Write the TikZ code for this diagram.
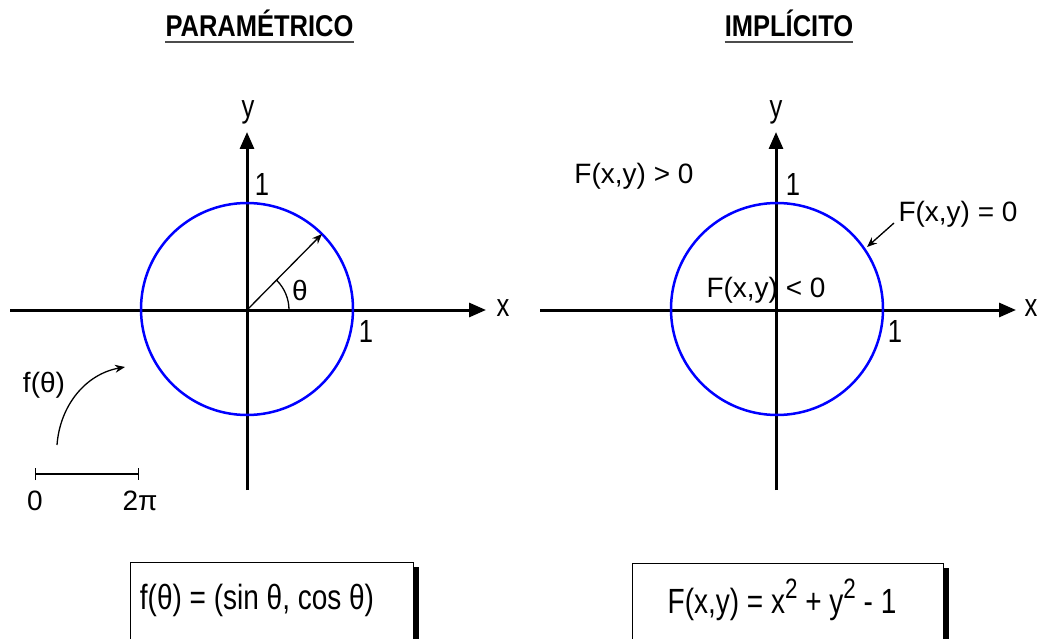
\documentclass[tikz,border=0pt]{standalone}
\usepackage{fontspec}
\setmainfont{Liberation Sans}
\newfontfamily\narrowfont[FakeStretch=0.8]{Liberation Sans}
\usetikzlibrary{arrows.meta}
\begin{document}
\begin{tikzpicture}[x=1pt,y=-1pt,
  lbl/.style={font=\fontsize{28}{30}\selectfont, inner sep=0pt},
  albl/.style={font=\narrowfont\fontsize{32}{34}\selectfont, inner sep=0pt},
  flbl/.style={font=\narrowfont\fontsize{35}{38}\selectfont, inner sep=0pt},
  ttl/.style={font=\fontsize{30}{34}\selectfont\bfseries, inner sep=0pt, anchor=base},
  uline/.style={line width=1.2pt, black!70},
  axis/.style={line width=3pt, -{Triangle[length=17pt 0,width=14pt 0]}},
  circ/.style={circle, draw=blue, line width=2.5pt, minimum size=212pt, inner sep=0pt},
  thin/.style={line width=1.3pt},
  sarrow/.style={line width=1.3pt, -{Stealth[length=10pt 0,width=8pt 0]}},
  boxnode/.style={draw=black, fill=white, line width=1.2pt, anchor=north west, inner sep=0pt},
  shadow/.style={fill=black, anchor=north west, inner sep=0pt}
]
\useasboundingbox (0,0) rectangle (1039,639);
\clip (0,0) rectangle (1039,639);
\fill[white] (0,0) rectangle (1039,639);

% ---------- titles ----------
\node[ttl] (t1) at (259.5,37) {\scalebox{0.85}[1]{PARAMÉTRICO}};
\draw[uline] (t1.base west) ++(0,5) coordinate (u1a) -- (t1.base east |- u1a);
\node[ttl] (t2) at (789,37) {\scalebox{0.85}[1]{IMPLÍCITO}};
\draw[uline] (t2.base west) ++(0,5) coordinate (u2a) -- (t2.base east |- u2a);

% ---------- left graph ----------
\coordinate (LO) at (247,310);
\coordinate (Lxs) at (10,310);
\coordinate (Lxe) at (486,310);
\coordinate (Lys) at (247,490);
\coordinate (Lye) at (247,132);
\draw[axis] (Lxs) -- (Lxe);
\draw[axis] (Lys) -- (Lye);
\node[circ] (Lc) at (247,309) {};
\node[albl] (Lx) at (503,308) {x};
\node[albl] (Ly) at (248,112) {y};
\node[albl] (L1x) at (366,331) {1};
\node[albl] (L1y) at (262,184) {1};
\coordinate (Lr) at (322,234);
\draw[sarrow] (LO) -- (Lr);
\coordinate (La) at (289,310);
\draw[thin] (La) arc[start angle=0, end angle=-45, radius=42];
\node[lbl] (Lth) at (300,290) {θ};

\node[lbl] (Lf) at (44,385) {f(θ)};
\coordinate (Cs) at (57,445);
\coordinate (Ce) at (125,367);
\draw[sarrow] (Cs) .. controls (60,405) and (86,374) .. (Ce);
\coordinate (I0) at (35,474);
\coordinate (I1) at (139,474);
\draw[thin, {Bar[width=12pt 0]}-{Bar[width=12pt 0]}] (I0) -- (I1);
\node[lbl] (L0) at (35,501) {0};
\node[lbl] (L2p) at (140,501) {2π};

% ---------- right graph ----------
\coordinate (RO) at (776,310);
\coordinate (Rxs) at (540,310);
\coordinate (Rxe) at (1016,310);
\coordinate (Rys) at (776,490);
\coordinate (Rye) at (776,132);
\draw[axis] (Rxs) -- (Rxe);
\draw[axis] (Rys) -- (Rye);
\node[circ] (Rc) at (777,309) {};
\node[albl] (Rx) at (1031,308) {x};
\node[albl] (Ry) at (776,112) {y};
\node[albl] (R1x) at (895,331) {1};
\node[albl] (R1y) at (793,184) {1};
\node[lbl] (Rgt) at (634,176) {F(x,y) > 0};
\node[lbl] (Req) at (958,214) {F(x,y) = 0};
\node[lbl] (Rlt) at (766,290) {F(x,y) < 0};
\coordinate (Ras) at (894,223);
\coordinate (Rae) at (867,247);
\draw[sarrow] (Ras) -- (Rae);

% ---------- formula boxes ----------
\node[shadow, minimum width=284pt, minimum height=110pt] (B1s) at (135,567) {};
\node[boxnode, minimum width=283pt, minimum height=110pt] (B1) at (130,562) {};
\node[flbl] (F1) at (257,600) {f(θ) = (sin θ, cos θ)};

\node[shadow, minimum width=312pt, minimum height=110pt] (B2s) at (637,568) {};
\node[boxnode, minimum width=311pt, minimum height=110pt] (B2) at (632,563) {};
\node[flbl] (F2) at (782,600) {F(x,y) = x\raisebox{0.42em}{\fontsize{28}{28}\selectfont 2} + y\raisebox{0.42em}{\fontsize{28}{28}\selectfont 2} - 1};
\end{tikzpicture}
\end{document}
